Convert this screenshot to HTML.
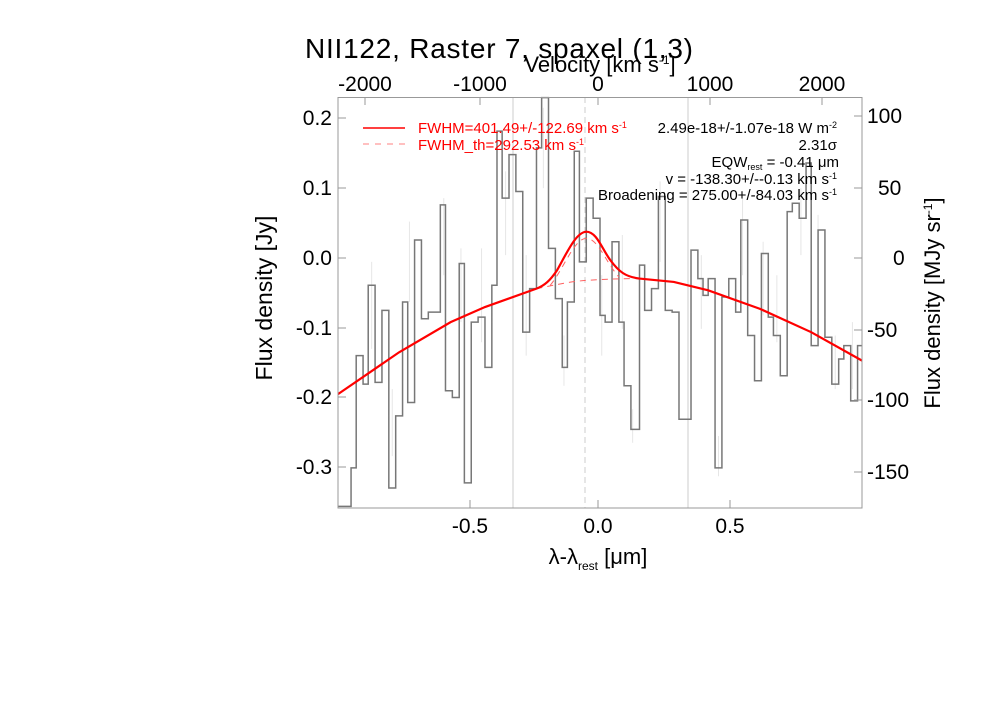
<!DOCTYPE html>
<html><head><meta charset="utf-8"><style>
body{margin:0;background:#fff;}
svg text{font-family:"Liberation Sans",sans-serif;}
</style></head><body>
<svg width="1000" height="714" viewBox="0 0 1000 714" xmlns="http://www.w3.org/2000/svg">
<rect width="1000" height="714" fill="#fff"/>
<text x="305" y="58" font-size="28" textLength="388" fill="#000">NII122, Raster 7, spaxel (1,3)</text>
<text x="600" y="72" font-size="22" text-anchor="middle" fill="#000">Velocity [km s<tspan font-size="12" dy="-8">-1</tspan><tspan dy="8">]</tspan></text>
<g font-size="21" fill="#000" text-anchor="middle">
<text x="365" y="91">-2000</text><text x="480" y="91">-1000</text><text x="598" y="91">0</text><text x="710" y="91">1000</text><text x="822" y="91">2000</text>
<text x="470" y="533">-0.5</text><text x="598" y="533">0.0</text><text x="730" y="533">0.5</text>
</g>
<g font-size="21" fill="#000" text-anchor="end">
<text x="332" y="125">0.2</text><text x="332" y="195">0.1</text><text x="332" y="265">0.0</text><text x="332" y="335">-0.1</text><text x="332" y="404">-0.2</text><text x="332" y="474">-0.3</text>
</g>
<g font-size="21" fill="#000" text-anchor="start">
<text x="867" y="123">100</text><text x="878" y="195">50</text><text x="893" y="265">0</text><text x="867" y="337">-50</text><text x="867" y="407">-100</text><text x="867" y="479">-150</text>
</g>
<text transform="translate(272,298) rotate(-90)" font-size="23" text-anchor="middle">Flux density [Jy]</text>
<text transform="translate(940,303) rotate(-90)" font-size="22" text-anchor="middle">Flux density [MJy sr<tspan font-size="12" dy="-8">-1</tspan><tspan dy="8">]</tspan></text>
<text x="598" y="564" font-size="22" text-anchor="middle">λ-λ<tspan font-size="12" dy="6">rest</tspan><tspan dy="-6"> [μm]</tspan></text>
<line x1="513" y1="97" x2="513" y2="508" stroke="#ccc" stroke-width="1"/>
<line x1="688" y1="97" x2="688" y2="508" stroke="#ccc" stroke-width="1"/>
<line x1="585" y1="97" x2="585" y2="508" stroke="#ccc" stroke-width="1" stroke-dasharray="6,4"/>
<g transform="translate(338,97) scale(0.3434,0.335) translate(-22,-28)">
<path vector-effect="non-scaling-stroke" fill="none" stroke="#e6e6e6" d="M120 520V780M230 400V640M330 330V560M440 480V760M510 250V500M570 500V800M680 740V890M790 560V800M880 960V1060M960 280V520M1130 1040V1160M1200 330V560M1300 560V760M1370 300V500M1470 740V900M1520 700V900M180 900V1100M380 480V700M620 60V300M850 440V720M1080 500V720M1260 460V680M1420 380V640"/>
<path vector-effect="non-scaling-stroke" fill="none" stroke="#777" stroke-width="1.5" d="M22 1250H40V1250H60V1135H75V800H95V885H110V590H130V880H150V665H170V1195H190V980H210V640H225V940H245V455H265V690H285V670H320V350H335V905H355V925H375V525H390V1180H410V700H430V685H450V835H470V590H485V130H500V330H520V200H540V310H560V730H580V600H600V180H615V30H635V480H655V630H675V835H690V640H710V190H725V520H745V330H765V390H785V680H800V700H820V460H840V700H855V890H875V1020H900V530H915V665H935V600H955V325H975V665H995V670H1015V990H1050V485H1070V570H1085V620H1100V570H1120V1135H1140V625H1160V570H1180V670H1195V395H1215V740H1235V875H1255V495H1275V685H1290V740H1310V860H1330V370H1345V345H1365V390H1385V225H1400V770H1420V425H1440V745H1460V885H1480V810H1495V770H1515V935H1535V770H1548"/>
<path vector-effect="non-scaling-stroke" fill="none" stroke="#ff6060" stroke-width="1" stroke-dasharray="6,5" d="M600 600C650 590 700 578 750 575C800 572 850 570 880 570"/>
<path vector-effect="non-scaling-stroke" fill="none" stroke="#ff6060" stroke-width="1" stroke-dasharray="6,5" d="M640 590C680 540 710 450 745 450C780 450 800 520 840 565"/>
<path vector-effect="non-scaling-stroke" fill="none" stroke="#f00" stroke-width="2.2" d="M22 915L200 790L350 700L450 655L600 600C625 590 640 575 660 545C690 490 715 432 745 430C775 430 790 480 815 515C840 550 860 565 900 570L1000 580L1100 605L1250 660L1400 730L1548 815"/>
</g>
<rect x="338" y="97.5" width="524" height="410.5" fill="none" stroke="#999" stroke-width="1"/>
<path stroke="#999" stroke-width="1" d="M365 97v8M480 97v8M598 97v8M710 97v8M822 97v8M470 508v-8M598 508v-8M730 508v-8M338 118h8M338 188h8M338 258h8M338 328h8M338 397h8M338 467h8M862 116h-8M862 188h-8M862 258h-8M862 330h-8M862 400h-8M862 472h-8"/>
<line x1="363" y1="128" x2="405" y2="128" stroke="#f00" stroke-width="1.5"/>
<line x1="363" y1="144" x2="405" y2="144" stroke="#ff8080" stroke-width="1" stroke-dasharray="6,6"/>
<g font-size="15" fill="#f00"><text x="418" y="133">FWHM=401.49+/-122.69 km s<tspan font-size="9" dy="-5">-1</tspan></text>
<text x="418" y="150">FWHM_th=292.53 km s<tspan font-size="9" dy="-5">-1</tspan></text></g>
<g font-size="15" fill="#000" text-anchor="end">
<text x="837" y="133">2.49e-18+/-1.07e-18 W m<tspan font-size="9" dy="-5">-2</tspan></text>
<text x="837" y="150">2.31σ</text>
<text x="839" y="167">EQW<tspan font-size="9" dy="3">rest</tspan><tspan dy="-3"> = -0.41 μm</tspan></text>
<text x="837" y="184">v = -138.30+/--0.13 km s<tspan font-size="9" dy="-5">-1</tspan></text>
<text x="837" y="200">Broadening = 275.00+/-84.03 km s<tspan font-size="9" dy="-5">-1</tspan></text>
</g>
</svg>
</body></html>
